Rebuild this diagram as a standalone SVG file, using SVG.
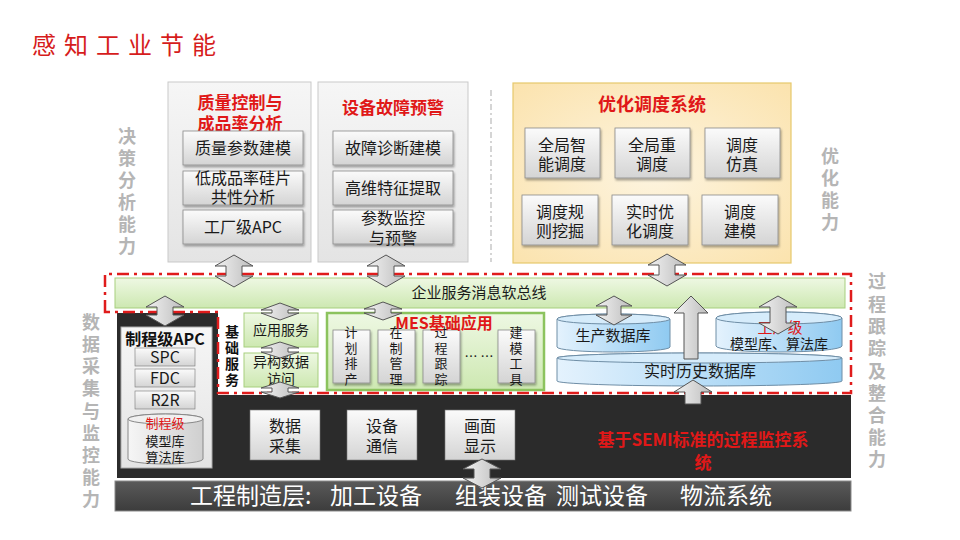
<svg xmlns="http://www.w3.org/2000/svg" width="960" height="540" viewBox="0 0 960 540">
<style>
text{font-family:"Noto Sans CJK SC","Liberation Sans",sans-serif;text-anchor:middle}
.t16{font-size:16px;fill:#1a1a1a}
.t14{font-size:14px;fill:#1a1a1a}
.t13{font-size:13px;fill:#1a1a1a}
.red{fill:#e01818;font-weight:bold}
.side{font-size:18px;font-weight:bold;fill:#b5b5b5}
.panel{fill:url(#gPanel);stroke:#c9c9c9;stroke-width:1}
.sub{fill:url(#gSub);stroke:#8a8a8a;stroke-width:0.8;filter:url(#sh)}
.dbox{fill:url(#gSub);stroke:#777;stroke-width:0.6}
.grn{fill:url(#gGreen);stroke:#a7cf7e;stroke-width:1}
.db{fill:url(#gBlue);stroke:#6f8ea6;stroke-width:1}
.dbtop{fill:#d6ecfb;stroke:#6f8ea6;stroke-width:1}
.arr{fill:url(#gArr);stroke:#555;stroke-width:1}
</style>
<defs>
<linearGradient id="gPanel" x1="0" y1="0" x2="0" y2="1"><stop offset="0" stop-color="#f6f6f6"/><stop offset="1" stop-color="#e4e4e4"/></linearGradient>
<linearGradient id="gSub" x1="0" y1="0" x2="0" y2="1"><stop offset="0" stop-color="#fbfbfb"/><stop offset="1" stop-color="#d4d4d4"/></linearGradient>
<radialGradient id="gYel" cx="0.5" cy="0.5" r="0.7"><stop offset="0" stop-color="#fdf4df"/><stop offset="1" stop-color="#fbe3ae"/></radialGradient>
<linearGradient id="gGreen" x1="0" y1="0" x2="0" y2="1"><stop offset="0" stop-color="#eef8e3"/><stop offset="1" stop-color="#cde8b1"/></linearGradient>
<linearGradient id="gBlue" x1="0" y1="0" x2="1" y2="0"><stop offset="0" stop-color="#e4f2fd"/><stop offset="1" stop-color="#8fcaf1"/></linearGradient>
<linearGradient id="gGrayCyl" x1="0" y1="0" x2="1" y2="0"><stop offset="0" stop-color="#f6f6f6"/><stop offset="1" stop-color="#cfcfcf"/></linearGradient>
<linearGradient id="gArr" x1="0" y1="0" x2="1" y2="0"><stop offset="0" stop-color="#f2f2f2"/><stop offset="1" stop-color="#bdbdbd"/></linearGradient>
<linearGradient id="gBar" x1="0" y1="0" x2="0" y2="1"><stop offset="0" stop-color="#5a5a5a"/><stop offset="1" stop-color="#3c3c3c"/></linearGradient>
<filter id="sh" x="-10%" y="-10%" width="130%" height="140%"><feDropShadow dx="1" dy="2" stdDeviation="1.2" flood-color="#000" flood-opacity="0.35"/></filter>
</defs>
<rect width="960" height="540" fill="#ffffff"/>

<g id="title"><text x="128" y="54" style="font-size:24px;fill:#d61c1c;letter-spacing:8px">感知工业节能</text></g>

<g id="side-labels">
<text class="side"><tspan x="127" y="143">决</tspan><tspan x="127" y="165">策</tspan><tspan x="127" y="187">分</tspan><tspan x="127" y="209">析</tspan><tspan x="127" y="231">能</tspan><tspan x="127" y="253">力</tspan></text>
<text class="side"><tspan x="830" y="163">优</tspan><tspan x="830" y="185">化</tspan><tspan x="830" y="207">能</tspan><tspan x="830" y="229">力</tspan></text>
<text class="side"><tspan x="91" y="329">数</tspan><tspan x="91" y="351">据</tspan><tspan x="91" y="373">采</tspan><tspan x="91" y="395">集</tspan><tspan x="91" y="418">与</tspan><tspan x="91" y="440">监</tspan><tspan x="91" y="462">控</tspan><tspan x="91" y="484">能</tspan><tspan x="91" y="506">力</tspan></text>
<text class="side"><tspan x="877" y="288">过</tspan><tspan x="877" y="311">程</tspan><tspan x="877" y="333">跟</tspan><tspan x="877" y="355">踪</tspan><tspan x="877" y="378">及</tspan><tspan x="877" y="400">整</tspan><tspan x="877" y="422">合</tspan><tspan x="877" y="444">能</tspan><tspan x="877" y="466">力</tspan></text>
</g>

<g id="quality-box">
<rect class="panel" x="168" y="82" width="143" height="180"/>
<text class="red" x="240" y="109" style="font-size:17px">质量控制与</text>
<text class="red" x="240" y="130" style="font-size:17px">成品率分析</text>
<rect class="sub" x="183" y="131" width="120" height="34"/><text class="t16" x="243" y="154">质量参数建模</text>
<rect class="sub" x="183" y="171" width="120" height="34"/><text class="t16" x="243" y="184">低成品率硅片</text><text class="t16" x="243" y="203">共性分析</text>
<rect class="sub" x="183" y="210" width="120" height="34"/><text class="t16" x="243" y="233">工厂级APC</text>
</g>

<g id="fault-box">
<rect class="panel" x="318" y="82" width="150" height="180"/>
<text class="red" x="393" y="114" style="font-size:17px">设备故障预警</text>
<rect class="sub" x="333" y="131" width="120" height="34"/><text class="t16" x="393" y="154">故障诊断建模</text>
<rect class="sub" x="333" y="171" width="120" height="34"/><text class="t16" x="393" y="194">高维特征提取</text>
<rect class="sub" x="333" y="210" width="120" height="34"/><text class="t16" x="393" y="224">参数监控</text><text class="t16" x="393" y="244">与预警</text>
</g>

<line x1="491" y1="90" x2="491" y2="262" stroke="#c8c8c8" stroke-width="1.5" stroke-dasharray="6 3 2 3"/>

<g id="schedule-box">
<rect x="513" y="83" width="278" height="180" fill="url(#gYel)" stroke="#e6c86c" stroke-width="1.2"/>
<text class="red" x="652" y="111" style="font-size:18px">优化调度系统</text>
<rect class="sub" x="525" y="128" width="75" height="50"/><text class="t16"><tspan x="562" y="151">全局智</tspan><tspan x="562" y="170">能调度</tspan></text>
<rect class="sub" x="615" y="128" width="75" height="50"/><text class="t16"><tspan x="652" y="151">全局重</tspan><tspan x="652" y="170">调度</tspan></text>
<rect class="sub" x="705" y="128" width="75" height="50"/><text class="t16"><tspan x="742" y="151">调度</tspan><tspan x="742" y="170">仿真</tspan></text>
<rect class="sub" x="522" y="195" width="76" height="50"/><text class="t16"><tspan x="560" y="218">调度规</tspan><tspan x="560" y="237">则挖掘</tspan></text>
<rect class="sub" x="612" y="195" width="76" height="50"/><text class="t16"><tspan x="650" y="218">实时优</tspan><tspan x="650" y="237">化调度</tspan></text>
<rect class="sub" x="702" y="195" width="76" height="50"/><text class="t16"><tspan x="740" y="218">调度</tspan><tspan x="740" y="237">建模</tspan></text>
</g>

<g id="dark-panel">
<rect x="117" y="313" width="734" height="165" fill="#2b2b2b"/>
<rect x="218" y="310" width="634" height="85" fill="#ffffff"/>
</g>

<g id="bus">
<rect class="grn" x="115" y="278" width="730" height="30"/>
<text class="t14" x="479" y="298" style="font-size:15px">企业服务消息软总线</text>
</g>

<g id="apc">
<rect x="121" y="327" width="91" height="141" fill="url(#gPanel)" stroke="#aaa"/>
<text x="165" y="345" style="font-size:16px;font-weight:bold;fill:#111">制程级APC</text>
<rect class="dbox" x="135" y="348" width="60" height="18"/><text class="t16" x="165" y="363">SPC</text>
<rect class="dbox" x="135" y="369" width="60" height="18"/><text class="t16" x="165" y="384">FDC</text>
<rect class="dbox" x="135" y="391" width="60" height="18"/><text class="t16" x="165" y="406">R2R</text>
<path d="M128,419 A37.5,5 0 0 1 203,419 V459 A37.5,5 0 0 1 128,459 Z" fill="url(#gGrayCyl)" stroke="#888"/>
<ellipse cx="165.5" cy="419" rx="37.5" ry="5" fill="#f0f0f0" stroke="#888"/>
<text class="t13" x="165" y="428" style="fill:#e01818">制程级</text>
<text class="t13" x="165" y="446">模型库</text>
<text class="t13" x="165" y="462">算法库</text>
</g>

<g id="basic-service">
<text style="font-size:14px;font-weight:bold;fill:#111"><tspan x="232" y="337">基</tspan><tspan x="232" y="353">础</tspan><tspan x="232" y="369">服</tspan><tspan x="232" y="385">务</tspan></text>
<rect class="grn" x="244" y="313" width="74" height="34"/><text class="t14" x="281" y="335">应用服务</text>
<rect class="grn" x="244" y="353" width="74" height="34"/><text class="t14" x="281" y="367">异构数据</text><text class="t14" x="281" y="384">访问</text>
</g>

<g id="mes">
<rect x="327" y="313" width="217" height="77" fill="url(#gGreen)" stroke="#8cc35e" stroke-width="2.5"/>
<rect class="sub" x="333" y="330" width="37" height="53"/>
<rect class="sub" x="378" y="330" width="37" height="53"/>
<rect class="sub" x="423" y="330" width="37" height="53"/>
<rect class="sub" x="498" y="330" width="37" height="53"/>
<text class="t13"><tspan x="351" y="337">计</tspan><tspan x="351" y="353">划</tspan><tspan x="351" y="368">排</tspan><tspan x="351" y="384">产</tspan></text>
<text class="t13"><tspan x="396" y="337">在</tspan><tspan x="396" y="353">制</tspan><tspan x="396" y="368">管</tspan><tspan x="396" y="384">理</tspan></text>
<text class="t13"><tspan x="441" y="337">过</tspan><tspan x="441" y="353">程</tspan><tspan x="441" y="368">跟</tspan><tspan x="441" y="384">踪</tspan></text>
<text class="t13" x="479" y="361">… …</text>
<text class="t13"><tspan x="516" y="337">建</tspan><tspan x="516" y="353">模</tspan><tspan x="516" y="368">工</tspan><tspan x="516" y="384">具</tspan></text>
<text class="red" x="444" y="329" style="font-size:16px">MES基础应用</text>
</g>

<g id="prod-db">
<path class="db" d="M557,319 A56.5,5 0 0 1 670,319 V347 A56.5,5 0 0 1 557,347 Z"/>
<ellipse class="dbtop" cx="613.5" cy="319" rx="56.5" ry="5"/>
<text class="t16" x="613" y="341" style="font-size:15px">生产数据库</text>
</g>

<g id="factory-db">
<path class="db" d="M716,318 A63,6 0 0 1 842,318 V346 A63,6 0 0 1 716,346 Z"/>
<ellipse class="dbtop" cx="779" cy="318" rx="63" ry="6"/>
<text x="780" y="333" style="font-size:15px;fill:#e01818">工厂级</text>
<text class="t14" x="779" y="349">模型库、算法库</text>
</g>

<g id="history-db">
<path class="db" d="M557,358 A142.5,5 0 0 1 842,358 V381 A142.5,5 0 0 1 557,381 Z"/>
<ellipse class="dbtop" cx="699.5" cy="358" rx="142.5" ry="5"/>
<text class="t16" x="700" y="377">实时历史数据库</text>
</g>

<g id="red-border">
<path d="M105,312 V274 H851 V393 H218 V312 Z" fill="none" stroke="#e01c1c" stroke-width="2.5" stroke-dasharray="12 5 3 5"/>
</g>

<g id="scada">
<rect class="dbox" x="250" y="410" width="70" height="50"/><text class="t16"><tspan x="285" y="432">数据</tspan><tspan x="285" y="452">采集</tspan></text>
<rect class="dbox" x="347" y="410" width="70" height="50"/><text class="t16"><tspan x="382" y="432">设备</tspan><tspan x="382" y="452">通信</tspan></text>
<rect class="dbox" x="445" y="410" width="70" height="50"/><text class="t16"><tspan x="480" y="432">画面</tspan><tspan x="480" y="452">显示</tspan></text>
<text class="red" x="703" y="446" style="font-size:17px">基于SEMI标准的过程监控系</text>
<text class="red" x="703" y="469" style="font-size:17px">统</text>
</g>

<g id="bottom-bar">
<rect x="115" y="481" width="736" height="30" fill="url(#gBar)" stroke="#8a8a8a" stroke-width="1"/>
<text style="font-size:23px;fill:#ffffff;text-anchor:start"><tspan x="190" y="504">工程制造层:</tspan><tspan x="330" y="504">加工设备</tspan><tspan x="455" y="504">组装设备</tspan><tspan x="556" y="504">测试设备</tspan><tspan x="680" y="504">物流系统</tspan></text>
</g>

<g id="connectors">
<path class="arr" d="M234,255 L253,266 L242,266 L242,276 L253,276 L234,287 L215,276 L226,276 L226,266 L215,266 Z"/>
<path class="arr" d="M386,255 L405,266 L394,266 L394,276 L405,276 L386,287 L367,276 L378,276 L378,266 L367,266 Z"/>
<path class="arr" d="M667,254 L686,265 L675,265 L675,275 L686,275 L667,286 L648,275 L659,275 L659,265 L648,265 Z"/>
<path class="arr" d="M165,296 L184,307 L173,307 L173,315 L184,315 L165,326 L146,315 L157,315 L157,307 L146,307 Z"/>
<path class="arr" d="M280,303 L299,310 L288,310 L288,313 L299,313 L280,320 L261,313 L272,313 L272,310 L261,310 Z"/>
<path class="arr" d="M280,342 L299,348 L288,348 L288,352 L299,352 L280,358 L261,352 L272,352 L272,348 L261,348 Z"/>
<path class="arr" d="M280,382 L299,388 L288,388 L288,392 L299,392 L280,398 L261,392 L272,392 L272,388 L261,388 Z"/>
<path class="arr" d="M383,302 L402,309 L391,309 L391,313 L402,313 L383,320 L364,313 L375,313 L375,309 L364,309 Z"/>
<path class="arr" d="M614,296 L632,306 L621,306 L621,315 L632,315 L614,325 L596,315 L607,315 L607,306 L596,306 Z"/>
<path class="arr" d="M691,296 L708,313 L698,313 L698,359 L684,359 L684,313 L674,313 Z"/>
<path class="arr" d="M778,296 L797,307 L786,307 L786,323 L797,323 L778,334 L759,323 L770,323 L770,307 L759,307 Z"/>
<path class="arr" d="M693,380 L712,392 L701,392 L701,404 L685,404 L685,392 L674,392 Z"/>
<path class="arr" d="M482,459 L501,469 L490,469 L490,478 L501,478 L482,488 L463,478 L474,478 L474,469 L463,469 Z"/>
</g>
</svg>
